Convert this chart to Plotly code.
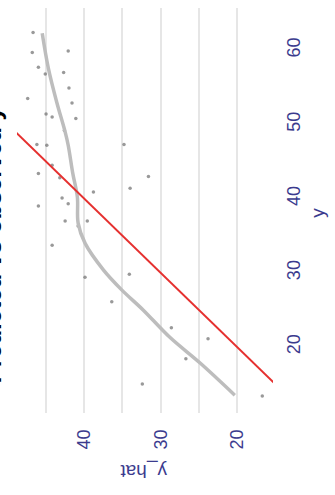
import plotly.graph_objects as go

# observed y (horizontal axis of the original chart) and predicted y_hat
obs_y = [62.4, 59.7, 59.9, 57.7, 56.8, 57.0, 54.9, 53.5, 52.9, 51.4, 51.0, 50.8, 49.2,
         47.3, 47.2, 47.3, 44.5, 43.4, 43.0, 42.8, 40.9, 41.4, 40.1, 39.3, 39.0, 37.0,
         36.3, 37.0, 33.7, 29.4, 29.8, 26.1, 22.6, 18.4, 21.1, 15.0, 13.4]
pred_y_hat = [46.7, 46.8, 42.1, 46.0, 45.1, 42.7, 42.0, 47.4, 41.6, 45.0, 44.2, 41.1, 42.6,
              46.2, 44.9, 34.8, 44.2, 46.0, 31.6, 43.2, 38.8, 34.0, 42.9, 42.1, 46.0, 42.5,
              40.8, 39.6, 44.2, 39.9, 34.1, 36.4, 28.6, 26.7, 23.8, 32.4, 16.7]

# smoothed trend
smooth_y = [62.3, 57.6, 53.0, 49.0, 47.2, 43.4, 40.2, 36.7, 34.0, 30.4, 27.7, 25.0, 21.3, 17.8, 13.5]
smooth_y_hat = [45.5, 44.7, 43.6, 42.5, 42.1, 41.5, 40.9, 40.8, 39.9, 37.5, 35.1, 32.3, 28.8, 24.8, 20.3]

# identity line y_hat = y
identity = [0, 80]

yhat_ticks = [20, 25, 30, 35, 40, 45]
yhat_ticktext = ["20", "", "30", "", "40", ""]
y_ticks = [20, 30, 40, 50, 60]
y_ticktext = ["20", "30", "40", "50", "60"]

title_text = "Predicted vs observed y"

FONT = "Liberation Sans, Arial, sans-serif"
NAVY = "#3b3b8e"

fig = go.Figure()
fig.add_trace(go.Scatter(x=pred_y_hat, y=obs_y, mode="markers",
                         marker=dict(size=3.5, color="rgba(110,110,110,0.7)"),
                         hoverinfo="skip"))
fig.add_trace(go.Scatter(x=smooth_y_hat, y=smooth_y, mode="lines",
                         line=dict(color="#bdbdbd", width=3.5, shape="spline"),
                         hoverinfo="skip"))
fig.add_trace(go.Scatter(x=identity, y=identity, mode="lines",
                         line=dict(color="#e5302f", width=2), hoverinfo="skip"))

fig.update_layout(
    width=335, height=495,
    margin=dict(l=17, r=62, t=8, b=82),
    paper_bgcolor="white", plot_bgcolor="white",
    showlegend=False,
    font=dict(family=FONT, color=NAVY),
    xaxis=dict(range=[48.8, 15.3], tickvals=yhat_ticks, ticktext=yhat_ticktext,
               tickangle=-90, showgrid=True, gridcolor="#e6e6e6", gridwidth=1.5,
               zeroline=False, showline=False, ticks="",
               tickfont=dict(size=18, color=NAVY, family=FONT),
               ticklabelstandoff=12),
    yaxis=dict(range=[11.1, 65.7], side="right", tickvals=y_ticks, ticktext=y_ticktext,
               tickangle=-90, showgrid=False, zeroline=False, showline=False, ticks="",
               tickfont=dict(size=18, color=NAVY, family=FONT),
               ticklabelstandoff=8),
    annotations=[
        dict(text="y_hat", xref="paper", yref="paper", x=0.492, y=-0.145,
             xanchor="center", yanchor="middle",
             showarrow=False, textangle=180, font=dict(size=19, color=NAVY, family=FONT)),
        dict(text="y", xref="paper", yref="paper", x=1.175, y=0.494,
             xanchor="center", yanchor="middle",
             showarrow=False, textangle=-90, font=dict(size=19, color=NAVY, family=FONT)),
        dict(text="<b>" + title_text + "</b>", xref="paper", yref="paper", x=-0.095, y=0.069,
             xanchor="center", yanchor="bottom",
             showarrow=False, textangle=-90, font=dict(size=24, color="black", family=FONT)),
    ],
)

fig.write_html("out.html")
